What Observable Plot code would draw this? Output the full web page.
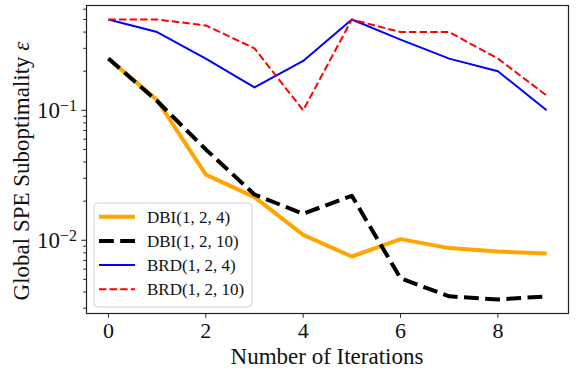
<!DOCTYPE html>
<html>
<head>
<meta charset="utf-8">
<script src="https://cdn.jsdelivr.net/npm/d3@7"></script>
<script src="https://cdn.jsdelivr.net/npm/@observablehq/plot@0.6"></script>
<style>
  html, body { margin: 0; padding: 0; background: white; }
  #chart { width: 576px; height: 368px; }
</style>
</head>
<body>
<div id="chart"></div>
<script>
// ---- data ----
const iterations = [0, 1, 2, 3, 4, 5, 6, 7, 8, 9];
const dbi_1_2_4  = [0.25, 0.12, 0.032, 0.0215, 0.011, 0.0075, 0.0102, 0.0087, 0.0082, 0.0079];
const dbi_1_2_10 = [0.25, 0.118, 0.05, 0.0225, 0.016, 0.022, 0.0051, 0.0037, 0.0035, 0.0037];
const brd_1_2_4  = [0.5, 0.4, 0.25, 0.15, 0.24, 0.5, 0.35, 0.25, 0.2, 0.1];
const brd_1_2_10 = [0.5, 0.5, 0.45, 0.3, 0.1, 0.5, 0.4, 0.4, 0.25, 0.13];
const seriesNames = ["DBI(1, 2, 4)", "DBI(1, 2, 10)", "BRD(1, 2, 4)", "BRD(1, 2, 10)"];
const xTicks = [0, 2, 4, 6, 8];
const yMajorTicks = [0.01, 0.1];
const yTickExponents = ["−2", "−1"];
const xLabel = "Number of Iterations";
const yLabel = "Global SPE Suboptimality ";
const yLabelSymbol = "ε";

// ---- styles ----
const styles = [
  {stroke: "#FFA500", strokeWidth: 4, dash: null},
  {stroke: "#000000", strokeWidth: 4, dash: "14.8,6.4"},
  {stroke: "#0000FF", strokeWidth: 2, dash: null},
  {stroke: "#FF0000", strokeWidth: 2, dash: "7.4,3.2"}
];
const allValues = [dbi_1_2_4, dbi_1_2_10, brd_1_2_4, brd_1_2_10];
const series = seriesNames.map((name, k) => ({name, values: allValues[k], ...styles[k]}));
const rows = series.map(s => iterations.map((x, i) => ({x, y: s.values[i], name: s.name})));

// log domain with 5% margins (matplotlib-like)
const flat = allValues.flat();
const lmin = Math.log10(d3.min(flat)), lmax = Math.log10(d3.max(flat));
const pad = (lmax - lmin) * 0.05;
const yDomain = [Math.pow(10, lmin - pad), Math.pow(10, lmax + pad)];
const xPad = (d3.max(iterations) - d3.min(iterations)) * 0.05;
const xDomain = [d3.min(iterations) - xPad, d3.max(iterations) + xPad];

const minor = [];
for (const dec of [0.001, 0.01, 0.1]) for (let m = 2; m <= 9; m++) {
  const v = m * dec;
  if (v >= yDomain[0] && v <= yDomain[1]) minor.push(v);
}

const FONT = "'Liberation Serif', 'DejaVu Serif', serif";
const FS = "23px";
const W = 576, H = 368, ML = 86, MR = 8, MT = 5, MB = 55;

const plot = Plot.plot({
  width: W, height: H,
  marginLeft: ML, marginRight: MR, marginTop: MT, marginBottom: MB,
  style: {fontFamily: FONT, fontSize: FS, color: "#111", background: "white"},
  x: {domain: xDomain},
  y: {type: "log", domain: yDomain},
  marks: [
    ...series.map((s, k) => Plot.line(rows[k], {
      x: "x", y: "y", stroke: s.stroke, strokeWidth: s.strokeWidth,
      strokeDasharray: s.dash, strokeLinejoin: "round", strokeLinecap: "butt"
    })),
    Plot.frame({stroke: "#222", strokeWidth: 1.2}),
    Plot.axisX({ticks: xTicks, tickSize: 4.7, tickPadding: 4, label: null, fontSize: 22, tickFormat: d => String(d), stroke: "#222"}),
    Plot.axisY({ticks: yMajorTicks, tickSize: 4.7, tickFormat: () => "", label: null, stroke: "#222"}),
    Plot.axisY({ticks: minor, tickSize: 2.7, tickFormat: () => "", label: null, stroke: "#222"})
  ]
});

const svg = d3.select(plot);
const ys = plot.scale("y");

// y tick labels 10^{-k}
yMajorTicks.forEach((v, i) => {
  const t = svg.append("text")
    .attr("x", ML - 9).attr("y", ys.apply(v)).attr("dy", "0.35em")
    .attr("text-anchor", "end")
    .style("font-family", FONT).style("font-size", FS).attr("fill", "#111");
  t.append("tspan").text("10");
  t.append("tspan").attr("dy", "-0.45em").style("font-size", "16px").text(yTickExponents[i]);
});

// axis titles
svg.append("text")
  .attr("x", (ML + W - MR) / 2).attr("y", 363.5)
  .attr("text-anchor", "middle")
  .style("font-family", FONT).style("font-size", FS).attr("fill", "#111")
  .text(xLabel);

const yl = svg.append("text")
  .attr("transform", `translate(29, 171) rotate(-90)`)
  .attr("text-anchor", "middle")
  .style("font-family", FONT).style("font-size", FS).attr("fill", "#111");
yl.append("tspan").text(yLabel);
yl.append("tspan").style("font-style", "italic").text(yLabelSymbol);

// legend
const lg = svg.append("g").attr("text-anchor", "start");
lg.append("rect").attr("x", 94).attr("y", 203).attr("width", 158).attr("height", 104)
  .attr("rx", 4).attr("fill", "white").attr("fill-opacity", 0.8)
  .attr("stroke", "#d0d0d0").attr("stroke-width", 1);
series.forEach((s, k) => {
  const y = 216.7 + k * 24.2;
  lg.append("line").attr("x1", 99).attr("x2", 135).attr("y1", y).attr("y2", y)
    .attr("stroke", s.stroke).attr("stroke-width", s.strokeWidth)
    .attr("stroke-dasharray", s.dash);
  lg.append("text").attr("x", 147).attr("y", y).attr("dy", "0.35em")
    .attr("text-anchor", "start")
    .style("font-family", FONT).style("font-size", "17px").attr("fill", "#111")
    .text(s.name);
});

document.getElementById("chart").appendChild(plot);
</script>
</body>
</html>
